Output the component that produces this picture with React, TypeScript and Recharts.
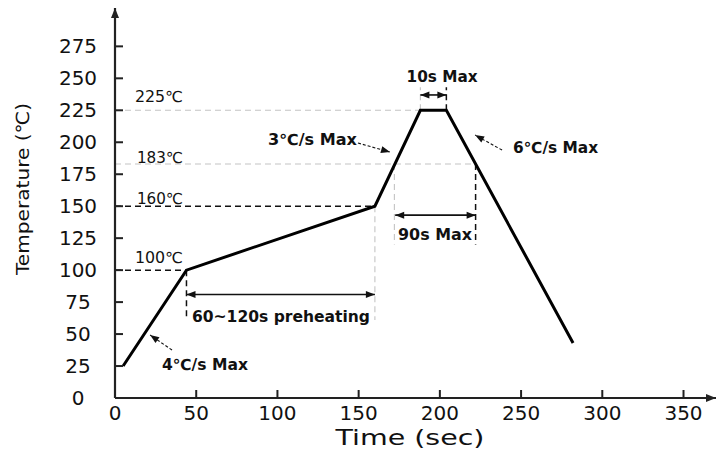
import React from 'react';
import { ComposedChart, Line, XAxis, YAxis, ReferenceLine, ReferenceDot } from 'recharts';

// reflow profile (time in sec, temperature in ℃)
const profileTime = [5, 44, 160, 188, 204, 282];
const profileTemp = [25, 100, 150, 225, 225, 43];

const xTicks = [0, 50, 100, 150, 200, 250, 300, 350];
const yTicks = [0, 25, 50, 75, 100, 125, 150, 175, 200, 225, 250, 275];

const data = profileTime.map((t, i) => ({ time: t, temp: profileTemp[i] }));

const FONT = '"DejaVu Sans", sans-serif';
const INK = '#111';

// guide lines, in data units: [x1, y1, x2, y2]
const blackDashes = [
  [0, 150, 160, 150],
  [0, 100, 44, 100],
  [44, 100, 44, 61],
  [222, 183, 222, 120],
  [204, 225, 204, 243],
];
const grayDashes = [
  [0, 225, 188, 225],
  [0, 183, 222, 183],
  [160, 150, 160, 61],
  [172, 183, 172, 120],
  [188, 225, 188, 243],
];
// span arrows (both ends)
const spanArrows = [
  [44, 81, 160, 81],
  [172.5, 143, 222, 143],
  [188, 237, 204, 237],
];
// dashed pointer arrows (head at the second point)
const pointers = [
  [149.6, 199.4, 169.3, 192.3],
  [238.3, 193.9, 221.7, 205.6],
  [35.1, 37.5, 21.6, 49.3],
];

const notes = [
  { text: '225℃', x: 12.3, y: 235.3, anchor: 'start', bold: false, len: 48 },
  { text: '183℃', x: 13.5, y: 187.6, anchor: 'start', bold: false, len: 46 },
  { text: '160℃', x: 13.5, y: 155.6, anchor: 'start', bold: false, len: 46 },
  { text: '100℃', x: 12.3, y: 109.5, anchor: 'start', bold: false, len: 48 },
  { text: '3℃/s Max', x: 94.2, y: 201.7, anchor: 'start', bold: true, len: 89 },
  { text: '10s Max', x: 201.4, y: 251, anchor: 'middle', bold: true, len: 71 },
  { text: '6℃/s Max', x: 245.1, y: 195.5, anchor: 'start', bold: true, len: 85 },
  { text: '90s Max', x: 197, y: 127.4, anchor: 'middle', bold: true, len: 74 },
  { text: '60~120s preheating', x: 47.4, y: 63.3, anchor: 'start', bold: true, len: 178 },
  { text: '4℃/s Max', x: 28.9, y: 25.8, anchor: 'start', bold: true, len: 86 },
];

const head = (x1: number, y1: number, x2: number, y2: number, len = 9, half = 3.5) => {
  const dx = x2 - x1;
  const dy = y2 - y1;
  const d = Math.hypot(dx, dy) || 1;
  const ux = dx / d;
  const uy = dy / d;
  const bx = x2 - ux * len;
  const by = y2 - uy * len;
  return `${x2},${y2} ${bx - uy * half},${by + ux * half} ${bx + uy * half},${by - ux * half}`;
};

const dashShape = (color: string, dash: string, w: number) => (p: any) => (
  <line x1={p.x1} y1={p.y1} x2={p.x2} y2={p.y2} stroke={color} strokeWidth={w} strokeDasharray={dash} />
);

const spanShape = (p: any) => (
  <g>
    <line x1={p.x1} y1={p.y1} x2={p.x2} y2={p.y2} stroke={INK} strokeWidth={1.6} />
    <polygon points={head(p.x1, p.y1, p.x2, p.y2)} fill={INK} />
    <polygon points={head(p.x2, p.y2, p.x1, p.y1)} fill={INK} />
  </g>
);

const pointerShape = (p: any) => (
  <g>
    <line x1={p.x1} y1={p.y1} x2={p.x2} y2={p.y2} stroke={INK} strokeWidth={1.1} strokeDasharray="3 2" />
    <polygon points={head(p.x1, p.y1, p.x2, p.y2, 9, 3.5)} fill={INK} />
  </g>
);

const axisShape = (p: any) => (
  <g>
    <line x1={p.x1} y1={p.y1} x2={p.x2} y2={p.y2} stroke="#222" strokeWidth={2.2} />
    <polygon points={head(p.x1, p.y1, p.x2, p.y2, 10, 4)} fill="#222" />
  </g>
);

const XTick = (props: any) => {
  const { x, y, payload } = props;
  return (
    <g>
      <line x1={x} y1={y} x2={x} y2={y - 8} stroke="#222" strokeWidth={2} />
      <text x={x} y={y + 15} textAnchor="middle" dominantBaseline="central" fontFamily={FONT} fontSize={20} fill={INK}>
        {payload.value}
      </text>
    </g>
  );
};

const YTick = (props: any) => {
  const { x, y, payload } = props;
  return (
    <g>
      {payload.value !== 0 && <line x1={x} y1={y} x2={x + 8} y2={y} stroke="#222" strokeWidth={2} />}
      <text x={x - 37} y={y} textAnchor="middle" dominantBaseline="central" fontFamily={FONT} fontSize={20} fill={INK}>
        {payload.value}
      </text>
    </g>
  );
};

export default function App() {
  return (
    <div style={{ position: 'absolute', left: 0, top: 0, width: 718, height: 455, background: '#fff' }}>
      <ComposedChart width={718} height={455} data={data} margin={{ top: 8, right: 2, bottom: 0, left: 0 }}>
        <XAxis
          dataKey="time"
          type="number"
          domain={[0, 370]}
          ticks={xTicks}
          allowDataOverflow
          axisLine={false}
          tickLine={false}
          tickSize={0}
          tickMargin={0}
          height={57}
          tick={<XTick />}
          interval={0}
          label={{
            content: () => (
              <text x={410} y={438} textAnchor="middle" dominantBaseline="central" fontFamily={FONT} fontSize={21} fill={INK} textLength={149} lengthAdjust="spacingAndGlyphs">
                Time (sec)
              </text>
            ),
          }}
        />
        <YAxis
          type="number"
          domain={[0, 305]}
          ticks={yTicks}
          allowDataOverflow
          axisLine={false}
          tickLine={false}
          tickSize={0}
          tickMargin={0}
          width={115}
          tick={<YTick />}
          interval={0}
          label={{
            content: () => (
              <text x={22} y={189} transform="rotate(-90 22 189)" textAnchor="middle" dominantBaseline="central" fontFamily={FONT} fontSize={18} fill={INK} textLength={172} lengthAdjust="spacingAndGlyphs">
                Temperature (℃)
              </text>
            ),
          }}
        />
        {grayDashes.map((s, i) => (
          <ReferenceLine key={`g${i}`} segment={[{ x: s[0], y: s[1] }, { x: s[2], y: s[3] }]} ifOverflow="visible" shape={dashShape('#c4c4c4', '6 4', 1.1)} />
        ))}
        {blackDashes.map((s, i) => (
          <ReferenceLine key={`b${i}`} segment={[{ x: s[0], y: s[1] }, { x: s[2], y: s[3] }]} ifOverflow="visible" shape={dashShape(INK, '6 4', 1.5)} />
        ))}
        {spanArrows.map((s, i) => (
          <ReferenceLine key={`s${i}`} segment={[{ x: s[0], y: s[1] }, { x: s[2], y: s[3] }]} ifOverflow="visible" shape={spanShape} />
        ))}
        {pointers.map((s, i) => (
          <ReferenceLine key={`p${i}`} segment={[{ x: s[0], y: s[1] }, { x: s[2], y: s[3] }]} ifOverflow="visible" shape={pointerShape} />
        ))}
        <ReferenceLine segment={[{ x: 0, y: 0 }, { x: 370, y: 0 }]} ifOverflow="visible" shape={axisShape} />
        <ReferenceLine segment={[{ x: 0, y: 0 }, { x: 0, y: 305 }]} ifOverflow="visible" shape={axisShape} />
        <Line type="linear" dataKey="temp" stroke="#000" strokeWidth={3} dot={false} isAnimationActive={false} />
        {notes.map((n, i) => (
          <ReferenceDot
            key={`n${i}`}
            x={n.x}
            y={n.y}
            ifOverflow="visible"
            shape={(p: any) => (
              <text
                x={p.cx}
                y={p.cy}
                textAnchor={n.anchor}
                dominantBaseline="central"
                fontFamily={FONT}
                fontSize={15}
                fontWeight={n.bold ? 'bold' : 'normal'}
                fill={INK}
                textLength={n.len}
                lengthAdjust="spacingAndGlyphs"
              >
                {n.text}
              </text>
            )}
          />
        ))}
      </ComposedChart>
    </div>
  );
}
